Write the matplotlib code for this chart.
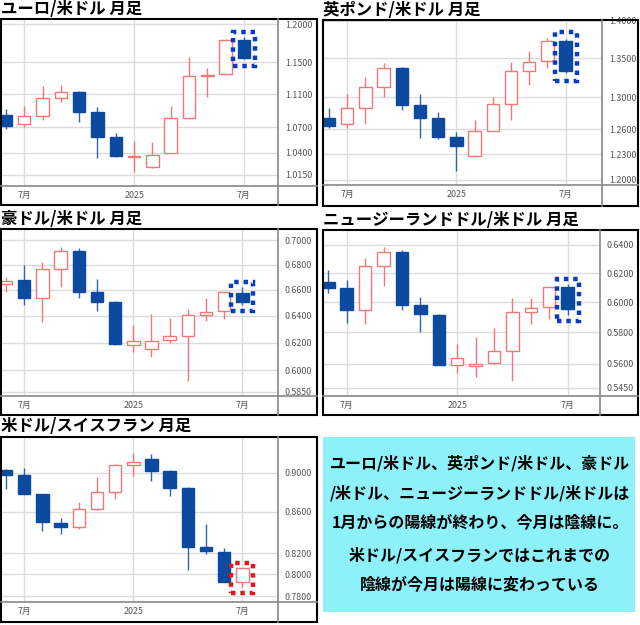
import matplotlib
matplotlib.use("Agg")
import matplotlib.pyplot as plt
from matplotlib.lines import Line2D
from matplotlib.patches import Rectangle
from matplotlib.ticker import FixedLocator, NullLocator, NullFormatter

plt.rcParams["font.family"] = ["Noto Sans CJK JP", "DejaVu Sans"]

# 月足: 2024年6月 〜 2025年7月
months = ["2024-06", "2024-07", "2024-08", "2024-09", "2024-10", "2024-11", "2024-12",
          "2025-01", "2025-02", "2025-03", "2025-04", "2025-05", "2025-06", "2025-07"]
xtick_idx = [1, 7, 13]
xtick_labels = ["7月", "2025", "7月"]

# ユーロ/米ドル
eur_open = [1.0845, 1.0740, 1.0833, 1.1047, 1.1130, 1.0880, 1.0577, 1.0355, 1.0239, 1.0400, 1.0808, 1.1326, 1.1351, 1.1788]
eur_high = [1.0913, 1.0954, 1.1204, 1.1214, 1.1140, 1.0937, 1.0630, 1.0533, 1.0520, 1.0952, 1.1572, 1.1422, 1.1795, 1.1823]
eur_low = [1.0673, 1.0705, 1.0784, 1.1002, 1.0761, 1.0333, 1.0344, 1.0178, 1.0220, 1.0400, 1.0793, 1.1068, 1.1350, 1.1537]
eur_close = [1.0717, 1.0829, 1.1047, 1.1130, 1.0880, 1.0577, 1.0360, 1.0365, 1.0377, 1.0812, 1.1326, 1.1342, 1.1788, 1.1550]
eur_ticks = [1.2000, 1.1500, 1.1100, 1.0700, 1.0400, 1.0150]

# 英ポンド/米ドル
gbp_open = [1.2744, 1.2662, 1.2861, 1.3124, 1.3378, 1.2902, 1.2735, 1.2507, 1.2283, 1.2585, 1.2919, 1.3335, 1.3465, 1.3734]
gbp_high = [1.2861, 1.3045, 1.3262, 1.3443, 1.3390, 1.3045, 1.2815, 1.2568, 1.2715, 1.3007, 1.3447, 1.3596, 1.3774, 1.3760]
gbp_low = [1.2621, 1.2621, 1.2666, 1.3003, 1.2839, 1.2496, 1.2479, 1.2105, 1.2263, 1.2585, 1.2715, 1.3151, 1.3378, 1.3304]
gbp_close = [1.2641, 1.2861, 1.3124, 1.3378, 1.2902, 1.2735, 1.2507, 1.2399, 1.2576, 1.2919, 1.3339, 1.3457, 1.3734, 1.3335]
gbp_ticks = [1.4000, 1.3500, 1.3000, 1.2600, 1.2300, 1.2000]

# 豪ドル/米ドル
aud_open = [0.6645, 0.6676, 0.6539, 0.6764, 0.6912, 0.6580, 0.6507, 0.6184, 0.6153, 0.6216, 0.6248, 0.6403, 0.6436, 0.6576]
aud_high = [0.6703, 0.6796, 0.6818, 0.6939, 0.6931, 0.6684, 0.6515, 0.6330, 0.6410, 0.6385, 0.6451, 0.6533, 0.6582, 0.6624]
aud_low = [0.6580, 0.6482, 0.6355, 0.6624, 0.6539, 0.6436, 0.6180, 0.6134, 0.6092, 0.6194, 0.5924, 0.6360, 0.6375, 0.6482]
aud_close = [0.6669, 0.6539, 0.6764, 0.6912, 0.6580, 0.6507, 0.6187, 0.6213, 0.6209, 0.6251, 0.6405, 0.6431, 0.6580, 0.6507]
aud_ticks = [0.7000, 0.6800, 0.6600, 0.6400, 0.6200, 0.6000, 0.5850]

# ニュージーランドドル/米ドル
nzd_open = [0.6139, 0.6095, 0.5950, 0.6248, 0.6352, 0.5982, 0.5915, 0.5589, 0.5583, 0.5602, 0.5680, 0.5937, 0.5966, 0.6102]
nzd_high = [0.6222, 0.6153, 0.6305, 0.6385, 0.6364, 0.6036, 0.5920, 0.5723, 0.5772, 0.5831, 0.6031, 0.6031, 0.6104, 0.6123]
nzd_low = [0.6061, 0.5860, 0.5857, 0.6113, 0.5946, 0.5801, 0.5589, 0.5539, 0.5518, 0.5598, 0.5491, 0.5853, 0.5886, 0.5915]
nzd_close = [0.6095, 0.5950, 0.6252, 0.6352, 0.5982, 0.5920, 0.5591, 0.5638, 0.5598, 0.5680, 0.5937, 0.5964, 0.6102, 0.5953]
nzd_ticks = [0.6400, 0.6200, 0.6000, 0.5800, 0.5600, 0.5450]

# 米ドル/スイスフラン
chf_open = [0.9024, 0.8975, 0.8780, 0.8493, 0.8454, 0.8626, 0.8797, 0.9077, 0.9143, 0.9014, 0.8838, 0.8261, 0.8212, 0.7932]
chf_high = [0.9035, 0.9052, 0.8785, 0.8543, 0.8695, 0.8958, 0.9088, 0.9204, 0.9192, 0.9028, 0.8847, 0.8480, 0.8251, 0.8062]
chf_low = [0.8828, 0.8777, 0.8408, 0.8380, 0.8431, 0.8620, 0.8726, 0.8965, 0.8916, 0.8760, 0.8040, 0.8187, 0.7929, 0.7887]
chf_close = [0.8975, 0.8777, 0.8497, 0.8454, 0.8629, 0.8804, 0.9077, 0.9108, 0.9020, 0.8838, 0.8261, 0.8216, 0.7929, 0.8062]
chf_ticks = [0.9000, 0.8600, 0.8200, 0.8000, 0.7800]

titles = ["ユーロ/米ドル 月足", "英ポンド/米ドル 月足", "豪ドル/米ドル 月足",
          "ニュージーランドドル/米ドル 月足", "米ドル/スイスフラン 月足"]

note_lines = ["ユーロ/米ドル、英ポンド/米ドル、豪ドル",
              "/米ドル、ニュージーランドドル/米ドルは",
              "1月からの陽線が終わり、今月は陰線に。",
              "米ドル/スイスフランではこれまでの",
              "陰線が今月は陽線に変わっている"]

UP = "#f07878"
DOWN = "#0c4a9f"
W, H = 640, 625

fig = plt.figure(figsize=(6.4, 6.25), dpi=100)


def fx(x):
    return x / W


def fy(y):
    return 1 - y / H


def panel(title, o, h, l, c, ticks, box, plot, xlim, ylim, mark_color, title_y):
    bx0, by0, bx1, by1 = box
    px1, py1 = plot
    ax = fig.add_axes([fx(bx0), fy(py1), fx(px1 - bx0), (py1 - by0) / H])
    ax.set_yscale("log")
    ax.set_xlim(*xlim)
    ax.set_ylim(*ylim)
    for s in ax.spines.values():
        s.set_visible(False)
    ax.yaxis.tick_right()
    ax.yaxis.set_major_locator(FixedLocator(ticks))
    ax.yaxis.set_minor_locator(NullLocator())
    ax.yaxis.set_minor_formatter(NullFormatter())
    ax.set_yticklabels([f"{t:.4f}" for t in ticks])
    ax.set_xticks(xtick_idx)
    ax.set_xticklabels(xtick_labels)
    ax.tick_params(axis="y", length=0, pad=5, labelsize=6.4, labelcolor="#555555")
    ax.tick_params(axis="x", length=0, pad=3.5, labelsize=6.4, labelcolor="#555555")
    ax.grid(True, color="#dcdcdc", lw=1)
    ax.set_axisbelow(True)

    xs = range(len(o))
    for i in xs:
        up = c[i] >= o[i]
        col = UP if up else DOWN
        ax.vlines(i, l[i], h[i], color=col if up else "#3064b0", lw=1, zorder=2)
        lo, hi = min(o[i], c[i]), max(o[i], c[i])
        if hi - lo < 1e-4:
            hi = lo * 1.0006
        ax.bar(i, hi - lo, bottom=lo, width=0.68, color="white" if up else DOWN,
               edgecolor=col, lw=1, zorder=3)

    # 今月の足を点線で囲む
    last = len(o) - 1
    ax.add_patch(Rectangle((last - 0.6, l[last] * 0.993), 1.2, h[last] * 1.006 - l[last] * 0.993,
                           fill=False, edgecolor=mark_color, lw=3.2,
                           linestyle=(0, (1, 1.1)), zorder=4))

    # 枠線と軸線
    fig.add_artist(Line2D([fx(px1), fx(px1)], [fy(by0), fy(by1)], color="#888888", lw=1.2))
    fig.add_artist(Line2D([fx(bx0), fx(bx1)], [fy(py1), fy(py1)], color="#888888", lw=1.2))
    fig.add_artist(Rectangle((fx(bx0), fy(by1)), fx(bx1 - bx0), (by1 - by0) / H,
                             fill=False, edgecolor="black", lw=1.5, transform=fig.transFigure))
    fig.text(fx(bx0), fy(title_y), title, fontsize=11.8, fontweight="bold",
             ha="left", va="center")


panel(titles[0], eur_open, eur_high, eur_low, eur_close, eur_ticks,
      (1, 19, 317, 205), (278, 186), (-0.27, 14.86), (1.0021, 1.2067), "#0a3cc2", 9)
panel(titles[1], gbp_open, gbp_high, gbp_low, gbp_close, gbp_ticks,
      (323, 20, 638, 206), (602, 185), (-0.33, 15.0), (1.1938, 1.4011), "#0a3cc2", 10)
panel(titles[2], aud_open, aud_high, aud_low, aud_close, aud_ticks,
      (1, 229, 317, 415), (278, 396), (-0.28, 14.96), (0.5820, 0.7092), "#0a3cc2", 219)
panel(titles[3], nzd_open, nzd_high, nzd_low, nzd_close, nzd_ticks,
      (323, 230, 638, 415), (600, 396), (-0.29, 14.76), (0.5399, 0.6509), "#0a3cc2", 220)
panel(titles[4], chf_open, chf_high, chf_low, chf_close, chf_ticks,
      (1, 437, 317, 622), (278, 602), (-0.28, 14.96), (0.7748, 0.9379), "#e01818", 426)

# 解説ボックス
fig.add_artist(Rectangle((fx(323), fy(612)), fx(312), 175 / H, facecolor="#8ef0f8",
                         edgecolor="none", transform=fig.transFigure))
for k, (line, yy) in enumerate(zip(note_lines, [463, 493, 523, 555, 585])):
    fig.text(fx(480), fy(yy), line, fontsize=11.5, fontweight="bold", ha="center", va="center")

fig.savefig("out.png", dpi=100)
